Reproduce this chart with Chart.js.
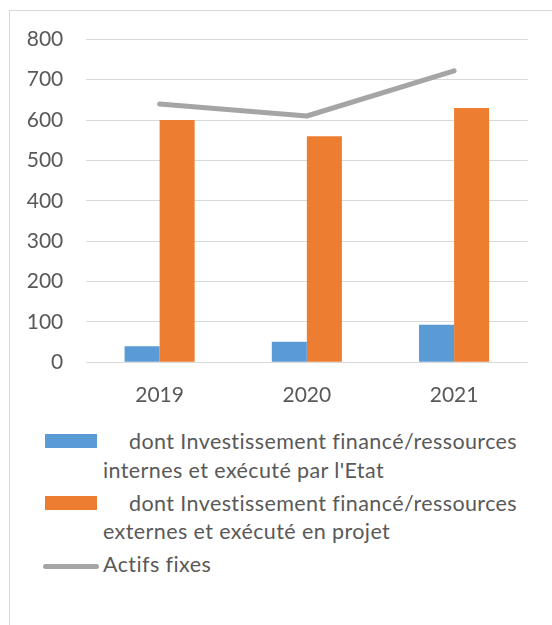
<!DOCTYPE html>
<html>
<head>
<meta charset="utf-8">
<script src="https://cdn.jsdelivr.net/npm/chart.js@4/dist/chart.umd.min.js"></script>
<style>
  html, body { margin: 0; padding: 0; background: #ffffff; }
  body { width: 552px; height: 625px; position: relative; overflow: hidden; font-family: Lato, "Open Sans", sans-serif; }
  #frame { position: absolute; left: 9px; top: 10px; width: 600px; height: 700px; border: 1px solid #d9d9d9; box-sizing: border-box; }
  #c { position: absolute; left: 0; top: 0; }
  .item { position: absolute; color: #595959; font-size: 21.5px; letter-spacing: 0.4px; line-height: 28.5px; white-space: nowrap; }
  .sw { position: absolute; }
  .txt { position: absolute; left: 103px; }
  .first { padding-left: 26px; }
</style>
</head>
<body>
<div id="frame"></div>
<canvas id="c" width="552" height="420"></canvas>
<div id="legend"></div>
<script>
const categories = ["2019", "2020", "2021"];
const seriesNames = [
  ["dont Investissement financé/ressources", "internes et exécuté par l'Etat"],
  ["dont Investissement financé/ressources", "externes et exécuté en projet"],
  ["Actifs fixes"]
];
const interne = [40, 51, 93];
const externe = [600, 560, 630];
const actifsFixes = [640, 610, 722];
const yTicks = [0, 100, 200, 300, 400, 500, 600, 700, 800];

const colors = ["#5B9BD5", "#ED7D31", "#A5A5A5"];
const tickFont = { family: "Lato", size: 21 };

new Chart(document.getElementById("c"), {
  type: "bar",
  data: {
    labels: categories,
    datasets: [
      { type: "line", label: seriesNames[2].join(" "), data: actifsFixes, borderColor: colors[2], backgroundColor: colors[2],
        borderWidth: 5, pointRadius: 0, borderCapStyle: "round", borderJoinStyle: "round", tension: 0, order: 0 },
      { label: seriesNames[0].join(" "), data: interne, backgroundColor: colors[0], order: 1,
        categoryPercentage: 0.476, barPercentage: 1 },
      { label: seriesNames[1].join(" "), data: externe, backgroundColor: colors[1], order: 1,
        categoryPercentage: 0.476, barPercentage: 1 }
    ]
  },
  options: {
    responsive: false,
    animation: false,
    devicePixelRatio: 1,
    layout: { padding: { left: 0, right: 24.3, top: 39.3, bottom: 0 } },
    plugins: { legend: { display: false }, tooltip: { enabled: false } },
    scales: {
      x: {
        grid: { display: false, drawTicks: false },
        border: { display: false },
        ticks: { color: "#595959", font: tickFont, padding: 20 },
        afterFit: (s) => { s.height = 57.7; }
      },
      y: {
        min: 0, max: 800,
        afterBuildTicks: (s) => { s.ticks = yTicks.map(v => ({ value: v })); },
        grid: { color: "#d9d9d9", lineWidth: 1, drawTicks: false },
        border: { display: false },
        ticks: { color: "#595959", font: tickFont, padding: 22.7 },
        afterFit: (s) => { s.width = 86; }
      }
    }
  }
});

// HTML legend (real text)
const legend = document.getElementById("legend");
const itemTops = [427, 488.7, 550.3];
[0, 1, 2].forEach((i) => {
  const item = document.createElement("div");
  item.className = "item";
  item.style.left = "0px";
  item.style.top = itemTops[i] + "px";
  const sw = document.createElement("div");
  sw.className = "sw";
  if (i < 2) {
    sw.style.left = "45px"; sw.style.top = "7px"; sw.style.width = "52px"; sw.style.height = "14px";
    sw.style.background = colors[i];
  } else {
    sw.style.left = "43px"; sw.style.top = "13.5px"; sw.style.width = "56px"; sw.style.height = "5px";
    sw.style.borderRadius = "3px"; sw.style.background = colors[2];
  }
  item.appendChild(sw);
  const txt = document.createElement("div");
  txt.className = "txt";
  seriesNames[i].forEach((line, k) => {
    const d = document.createElement("div");
    if (k === 0 && i < 2) d.className = "first";
    d.textContent = line;
    txt.appendChild(d);
  });
  item.appendChild(txt);
  legend.appendChild(item);
});
</script>
</body>
</html>
